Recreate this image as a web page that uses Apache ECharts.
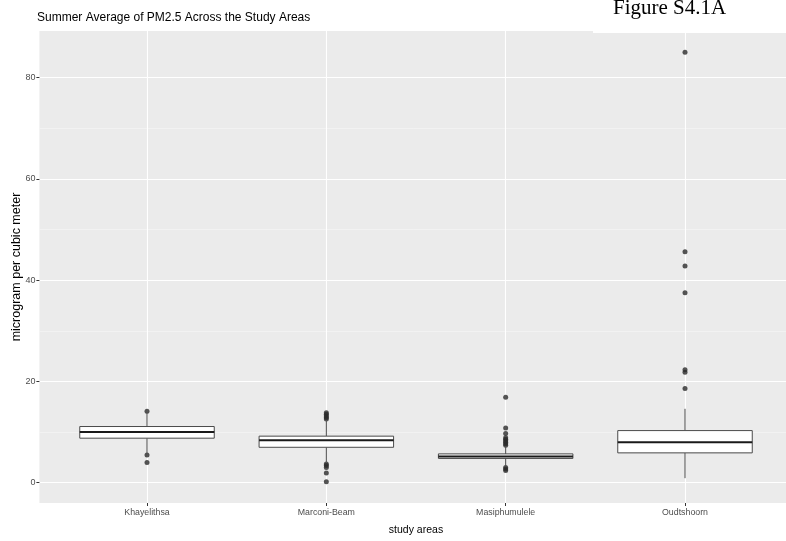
<!DOCTYPE html>
<html>
<head>
<meta charset="utf-8">
<script src="https://cdn.jsdelivr.net/npm/echarts@6/dist/echarts.min.js"></script>
<style>
html,body{margin:0;padding:0;background:#fff;}
#chart{width:786px;height:541px;}
</style>
</head>
<body>
<div id="chart"></div>
<script>
// ---- data ----
const categories = ['Khayelithsa', 'Marconi-Beam', 'Masiphumulele', 'Oudtshoorn'];
// [lower whisker, Q1, median, Q3, upper whisker]
const khayelithsaBox   = [5.8, 8.8, 10.0, 11.1, 13.9];
const marconiBox       = [4.1, 7.0, 8.4, 9.2, 12.2];
const masiphumuleleBox = [3.3, 4.8, 5.2, 5.7, 7.2];
const oudtshoornBox    = [0.9, 5.9, 8.0, 10.3, 14.6];
const khayelithsaOut   = [14.1, 5.5, 4.0];
const marconiOut       = [12.6, 12.9, 13.2, 13.5, 13.8, 3.7, 3.4, 3.0, 1.9, 0.2];
const masiphumuleleOut = [7.4, 7.7, 8.0, 8.3, 8.6, 8.9, 9.7, 10.8, 16.9, 3.0, 2.7, 2.4];
const oudtshoornOut    = [18.6, 21.8, 22.3, 37.5, 42.8, 45.6, 85.0];
const yMajorTicks = [0, 20, 40, 60, 80];
const yMinorTicks = [10, 30, 50, 70];
const titleText = 'Summer Average of PM2.5 Across the Study Areas';
const figureLabel = 'Figure S4.1A';
const yTitle = 'microgram per cubic meter';
const xTitle = 'study areas';

// ---- build ----
const boxes = [khayelithsaBox, marconiBox, masiphumuleleBox, oudtshoornBox];
const outs = [khayelithsaOut, marconiOut, masiphumuleleOut, oudtshoornOut];
const positions = categories.map((c, i) => i + 1);
const boxData = boxes.map((b, i) => [positions[i]].concat(b));
const outData = [];
outs.forEach((arr, i) => arr.forEach(v => outData.push([positions[i], v])));

const yMin = -4.0, yMax = 89.2;
const FONT = 'Liberation Sans, Arial, sans-serif';

const chart = echarts.init(document.getElementById('chart'), null, {renderer: 'canvas'});
chart.setOption({
  animation: false,
  backgroundColor: '#ffffff',
  title: {
    text: titleText, left: 37, top: 12, padding: 0,
    textStyle: {fontFamily: FONT, fontSize: 12, fontWeight: 'normal', color: '#000'}
  },
  grid: {
    left: 39.4, right: -6.6, top: 31, bottom: 38,
    show: true, backgroundColor: '#EBEBEB', borderWidth: 0,
    containLabel: false, outerBoundsMode: 'none'
  },
  xAxis: {
    type: 'value', min: 0.4, max: 4.6,
    name: xTitle, nameLocation: 'middle', nameGap: 22, nameMoveOverlap: false,
    nameTextStyle: {fontFamily: FONT, fontSize: 10.5, color: '#000'},
    axisLine: {show: false, onZero: false},
    axisTick: {show: true, length: 3, customValues: positions, lineStyle: {color: '#333', width: 1}},
    axisLabel: {
      show: true, margin: 5, customValues: positions,
      fontFamily: FONT, fontSize: 8.8, color: '#4D4D4D',
      formatter: v => categories[Math.round(v) - 1] || ''
    },
    splitLine: {show: true, lineStyle: {color: '#ffffff', width: 1.1}}
  },
  yAxis: [{
    type: 'value', min: yMin, max: yMax,
    name: yTitle, nameLocation: 'middle', nameGap: 16, nameRotate: 90, nameMoveOverlap: false,
    nameTextStyle: {fontFamily: FONT, fontSize: 12.5, color: '#000'},
    axisLine: {show: false, onZero: false},
    axisTick: {show: true, length: 3, customValues: yMajorTicks, lineStyle: {color: '#333', width: 1}},
    axisLabel: {show: true, margin: 4, customValues: yMajorTicks, fontFamily: FONT, fontSize: 9, color: '#4D4D4D'},
    splitLine: {show: true, lineStyle: {color: '#ffffff', width: 1.1}}
  }, {
    type: 'value', min: yMin, max: yMax, position: 'left',
    axisLine: {show: false, onZero: false},
    axisTick: {show: false, customValues: yMinorTicks},
    axisLabel: {show: false, customValues: yMinorTicks},
    splitLine: {show: true, lineStyle: {color: '#F7F7F7', width: 0.6}}
  }],
  graphic: [
    {type: 'rect', left: 593, top: 0, shape: {width: 193, height: 33}, style: {fill: '#ffffff'}, z: 50, silent: true},
    {type: 'text', x: 613, y: 19, z: 51, style: {text: figureLabel, font: '21px "Liberation Serif", "Times New Roman", serif', fill: '#000', verticalAlign: 'bottom'}}
  ],
  series: [{
    type: 'scatter', data: outData, symbol: 'circle', symbolSize: 5,
    itemStyle: {color: '#2b2b2b'}, z: 2
  }, {
    type: 'custom', data: boxData, z: 3,
    encode: {x: 0, y: [1, 2, 3, 4, 5]},
    renderItem: function (params, api) {
      const x = api.value(0);
      const lo = api.coord([x, api.value(1)]);
      const q1 = api.coord([x, api.value(2)]);
      const md = api.coord([x, api.value(3)]);
      const q3 = api.coord([x, api.value(4)]);
      const hi = api.coord([x, api.value(5)]);
      const w = api.size([0.75, 0])[0];
      const stroke = '#4a4a4a';
      return {
        type: 'group',
        children: [
          {type: 'line', shape: {x1: hi[0], y1: hi[1], x2: q3[0], y2: q3[1]}, style: {stroke: stroke, lineWidth: 1}},
          {type: 'line', shape: {x1: lo[0], y1: lo[1], x2: q1[0], y2: q1[1]}, style: {stroke: stroke, lineWidth: 1}},
          {type: 'rect', shape: {x: q3[0] - w / 2, y: q3[1], width: w, height: q1[1] - q3[1]}, style: {fill: '#ffffff', stroke: stroke, lineWidth: 1}},
          {type: 'line', shape: {x1: md[0] - w / 2, y1: md[1], x2: md[0] + w / 2, y2: md[1]}, style: {stroke: '#1a1a1a', lineWidth: 2}}
        ]
      };
    }
  }]
});
</script>
</body>
</html>
